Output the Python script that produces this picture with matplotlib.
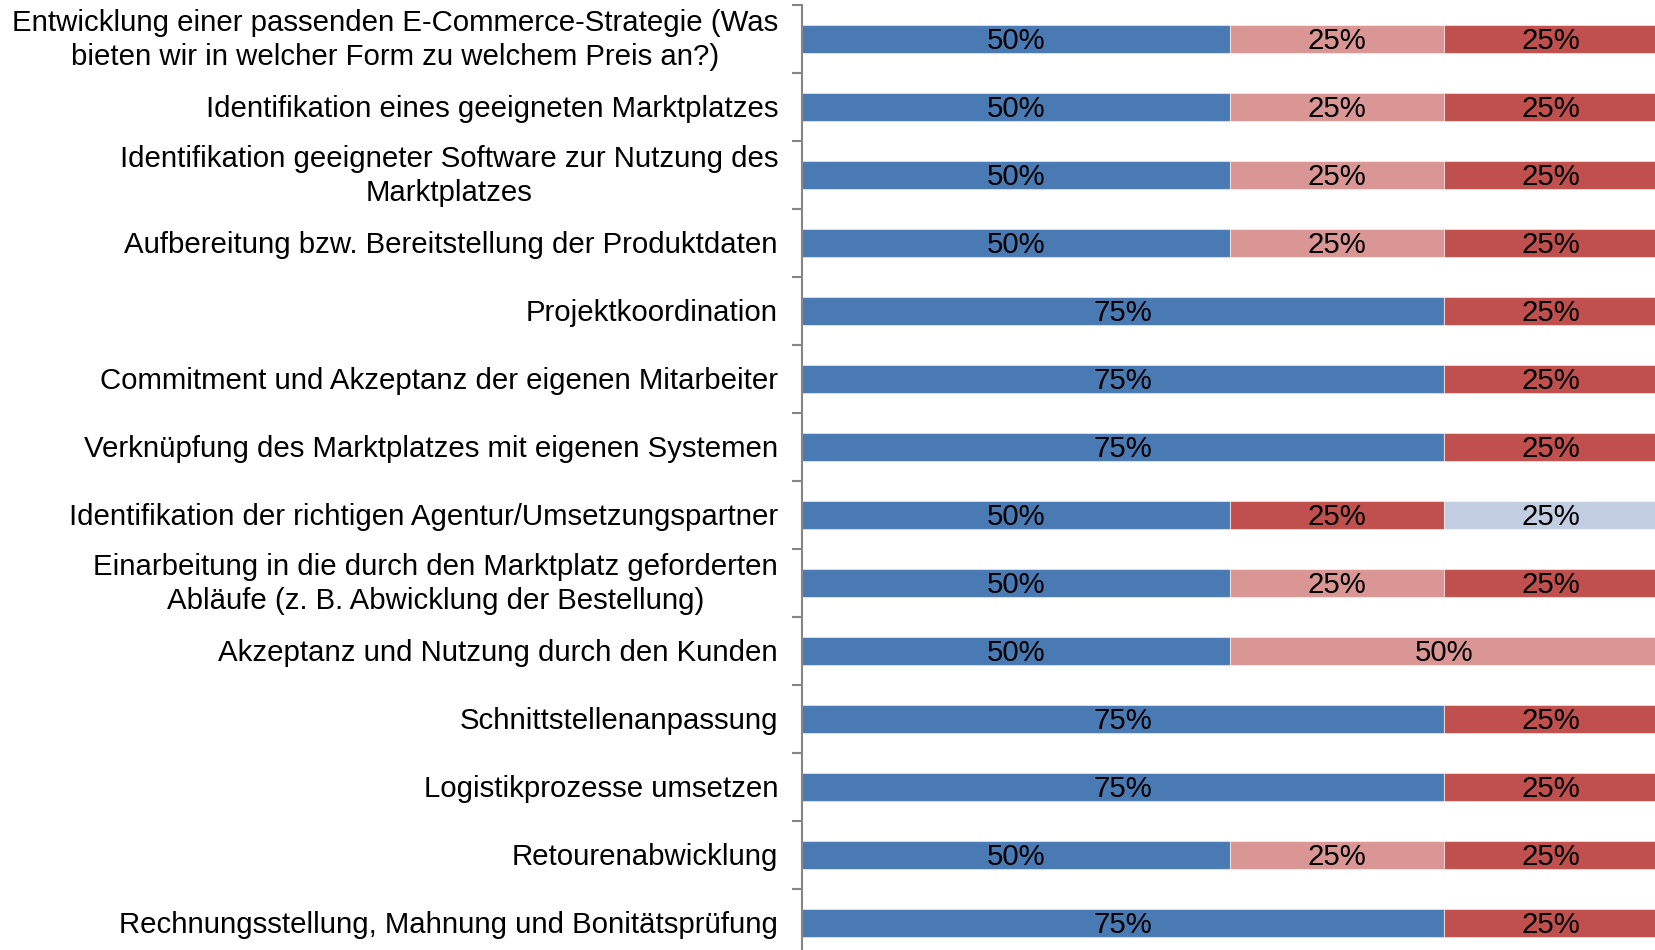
import matplotlib
matplotlib.use("Agg")
import matplotlib.pyplot as plt
import matplotlib.transforms as mtransforms
import numpy as np

plt.rcParams['font.family'] = ['Liberation Sans', 'DejaVu Sans']

categories = [
    "Entwicklung einer passenden E-Commerce-Strategie (Was\nbieten wir in welcher Form zu welchem Preis an?)",
    "Identifikation eines geeigneten Marktplatzes",
    "Identifikation geeigneter Software zur Nutzung des\nMarktplatzes",
    "Aufbereitung bzw. Bereitstellung der Produktdaten",
    "Projektkoordination",
    "Commitment und Akzeptanz der eigenen Mitarbeiter",
    "Verknüpfung des Marktplatzes mit eigenen Systemen",
    "Identifikation der richtigen Agentur/Umsetzungspartner",
    "Einarbeitung in die durch den Marktplatz geforderten\nAbläufe (z. B. Abwicklung der Bestellung)",
    "Akzeptanz und Nutzung durch den Kunden",
    "Schnittstellenanpassung",
    "Logistikprozesse umsetzen",
    "Retourenabwicklung",
    "Rechnungsstellung, Mahnung und Bonitätsprüfung",
]

series_1 = [0.50, 0.50, 0.50, 0.50, 0.75, 0.75, 0.75, 0.50, 0.50, 0.50, 0.75, 0.75, 0.50, 0.75]
series_2 = [0.25, 0.25, 0.25, 0.25, 0.00, 0.00, 0.00, 0.00, 0.25, 0.50, 0.00, 0.00, 0.25, 0.00]
series_3 = [0.25, 0.25, 0.25, 0.25, 0.25, 0.25, 0.25, 0.25, 0.25, 0.00, 0.25, 0.25, 0.25, 0.25]
series_4 = [0.00, 0.00, 0.00, 0.00, 0.00, 0.00, 0.00, 0.25, 0.00, 0.00, 0.00, 0.00, 0.00, 0.00]

colors = ["#4A7AB4", "#D99694", "#C0504D", "#C3CDE1"]

W, H = 1655, 950
DPI = 100
fig = plt.figure(figsize=(W / DPI, H / DPI), dpi=DPI)
ax = fig.add_axes([802 / W, 1 - 957 / H, 856 / W, 952 / H])

FS = 21.2

y = np.arange(len(categories))
left = np.zeros(len(categories))
for vals, c in zip([series_1, series_2, series_3, series_4], colors):
    vals = np.array(vals)
    ax.barh(y, vals, left=left, height=0.4, color=c,
            edgecolor=(1, 1, 1, 0.5), linewidth=0.8)
    for yi, l, v in zip(y, left, vals):
        if v > 0:
            ax.text(l + v / 2, yi + 0.03, f"{v * 100:.0f}%", ha='center', va='center',
                    fontsize=FS, color='black')
    left = left + vals

ax.set_xlim(0, 1)
ax.set_ylim(len(categories) - 0.5, -0.5)
ax.set_yticks(y)
ax.set_yticklabels([])
ax.set_yticks(np.arange(-0.5, len(categories), 1), minor=True)
ax.tick_params(axis='y', which='major', length=0)
ax.tick_params(axis='y', which='minor', length=7, width=1.5, color='#868686', direction='out')
ax.set_xticks([])

# category labels as text, right-aligned against the axis (offsets in pixels)
blend = mtransforms.blended_transform_factory(ax.transAxes, ax.transData)
for yi, cat in zip(y, categories):
    dy_px = -1.0 if "\n" in cat else -2.5
    off = mtransforms.ScaledTranslation(-24 / DPI, dy_px / DPI, fig.dpi_scale_trans)
    ax.text(0, yi, cat, transform=blend + off, ha='right', va='center',
            multialignment='center', linespacing=1.28, fontsize=FS, color='black')

for s in ['top', 'right', 'bottom']:
    ax.spines[s].set_visible(False)
ax.spines['left'].set_color('#868686')
ax.spines['left'].set_linewidth(1.5)

fig.savefig("out.png", dpi=DPI)
